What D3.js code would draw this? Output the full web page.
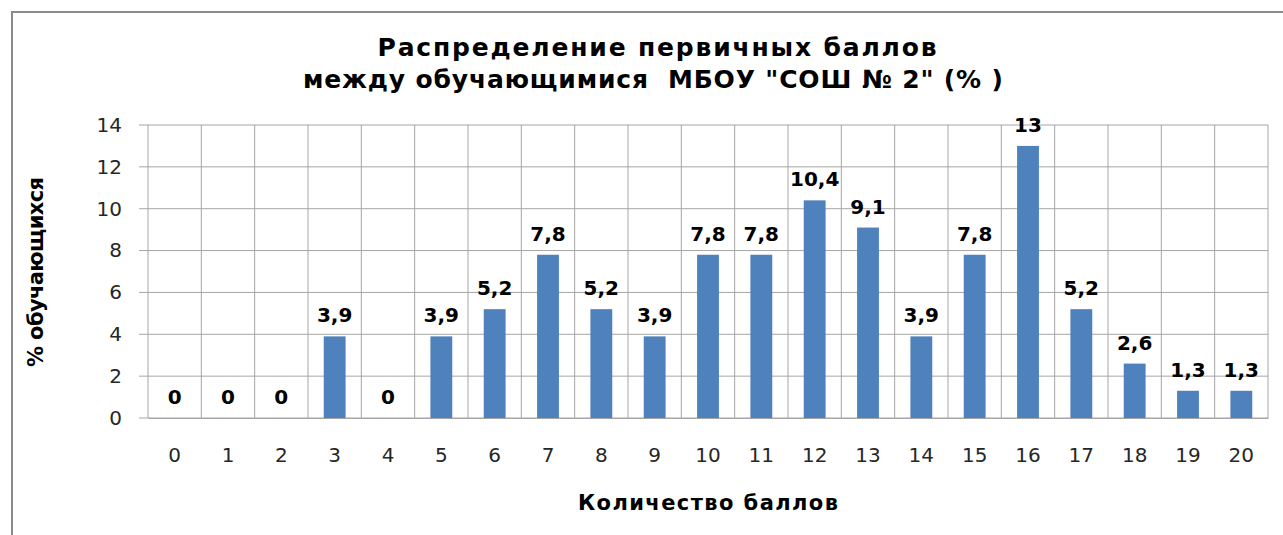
<!DOCTYPE html>
<html>
<head>
<meta charset="utf-8">
<script src="https://cdn.jsdelivr.net/npm/d3@7"></script>
<style>
  body { margin: 0; background: #fff; }
  svg { display: block; font-family: "DejaVu Sans", sans-serif; }
  .title text { white-space: pre; }
</style>
</head>
<body>
<div id="chart"></div>
<script>
// Chart data
const categories = ['0', '1', '2', '3', '4', '5', '6', '7', '8', '9', '10',
  '11', '12', '13', '14', '15', '16', '17', '18', '19', '20'];
const values = [0, 0, 0, 3.9, 0, 3.9, 5.2, 7.8, 5.2, 3.9, 7.8,
  7.8, 10.4, 9.1, 3.9, 7.8, 13, 5.2, 2.6, 1.3, 1.3];
const yTicks = [0, 2, 4, 6, 8, 10, 12, 14];
const titleLines = ['Распределение первичных баллов', 'между обучающимися  МБОУ "СОШ № 2" (% )'];

const width = 1283, height = 535;
const margin = { top: 125, right: 15, bottom: 117, left: 148 };
const innerWidth = width - margin.left - margin.right;
const innerHeight = height - margin.top - margin.bottom;

const svg = d3.select('#chart').append('svg')
  .attr('width', width)
  .attr('height', height);

// Outer chart frame (only top and left edges show in the picture)
svg.append('path')
  .attr('d', `M12,${height} V12 H${width}`)
  .style('fill', 'none')
  .style('stroke', '#8c8c8c')
  .style('stroke-width', 2);

const g = svg.append('g')
  .attr('transform', `translate(${margin.left},${margin.top})`);

const x = d3.scaleBand()
  .domain(categories)
  .range([0, innerWidth])
  .paddingInner(0.59)
  .paddingOuter(0.295);

const xCat = d3.scaleBand()
  .domain(categories)
  .range([0, innerWidth]);

const y = d3.scaleLinear()
  .domain([0, 14])
  .range([innerHeight, 0]);

// Horizontal grid
g.append('g')
  .attr('class', 'y-grid')
  .selectAll('line')
  .data(yTicks)
  .join('line')
  .attr('x1', -9)
  .attr('x2', innerWidth)
  .attr('y1', d => y(d))
  .attr('y2', d => y(d))
  .style('stroke', '#a6a6a6');

// Vertical grid at category boundaries
const bounds = categories.map(c => xCat(c)).concat([innerWidth]);
g.append('g')
  .attr('class', 'x-grid')
  .selectAll('line')
  .data(bounds)
  .join('line')
  .attr('x1', d => d)
  .attr('x2', d => d)
  .attr('y1', 0)
  .attr('y2', innerHeight)
  .style('stroke', '#a6a6a6');

// Y axis labels
g.append('g')
  .attr('class', 'y-axis')
  .call(d3.axisLeft(y).tickValues(yTicks).tickSize(0).tickPadding(26))
  .call(s => s.select('.domain').remove())
  .call(s => s.selectAll('text')
    .style('font-family', '"DejaVu Sans", sans-serif')
    .style('font-size', '20px')
    .style('fill', '#262626'));

// X axis
g.append('g')
  .attr('class', 'x-axis')
  .attr('transform', `translate(0,${innerHeight})`)
  .call(d3.axisBottom(xCat).tickSize(0).tickPadding(30))
  .call(s => s.select('.domain').style('stroke', '#a6a6a6'))
  .call(s => s.selectAll('text')
    .style('font-family', '"DejaVu Sans", sans-serif')
    .style('font-size', '20px')
    .style('fill', '#262626'));

// Bars
g.selectAll('.bar')
  .data(values)
  .join('rect')
  .attr('class', 'bar')
  .attr('x', (d, i) => x(categories[i]))
  .attr('width', x.bandwidth())
  .attr('y', d => y(d))
  .attr('height', d => innerHeight - y(d))
  .style('fill', '#4f81bd');

// Value labels
const fmt = d => String(d).replace('.', ',');
g.selectAll('.value-label')
  .data(values)
  .join('text')
  .attr('class', 'value-label')
  .attr('x', (d, i) => x(categories[i]) + x.bandwidth() / 2)
  .attr('y', d => y(d) - 14)
  .attr('text-anchor', 'middle')
  .style('font-size', '20px')
  .style('font-weight', 'bold')
  .style('fill', '#000')
  .text(fmt);

// Title
const titleX = [657, 653];
const titleLen = [559, 700];
svg.append('g')
  .attr('class', 'title')
  .selectAll('text')
  .data(titleLines)
  .join('text')
  .attr('x', (d, i) => titleX[i])
  .attr('y', (d, i) => 56 + i * 32)
  .attr('text-anchor', 'middle')
  .attr('textLength', (d, i) => titleLen[i])
  .attr('lengthAdjust', 'spacing')
  .style('font-size', '25px')
  .style('font-weight', 'bold')
  .style('fill', '#000')
  .text(d => d);

// Axis titles
svg.append('text')
  .attr('x', 708)
  .attr('y', 510)
  .attr('text-anchor', 'middle')
  .attr('textLength', 260)
  .attr('lengthAdjust', 'spacing')
  .style('font-size', '21px')
  .style('font-weight', 'bold')
  .text('Количество баллов');

svg.append('text')
  .attr('transform', `translate(43,272) rotate(-90)`)
  .attr('text-anchor', 'middle')
  .attr('textLength', 190)
  .attr('lengthAdjust', 'spacing')
  .style('font-size', '21px')
  .style('font-weight', 'bold')
  .text('% обучающихся');
</script>
</body>
</html>
